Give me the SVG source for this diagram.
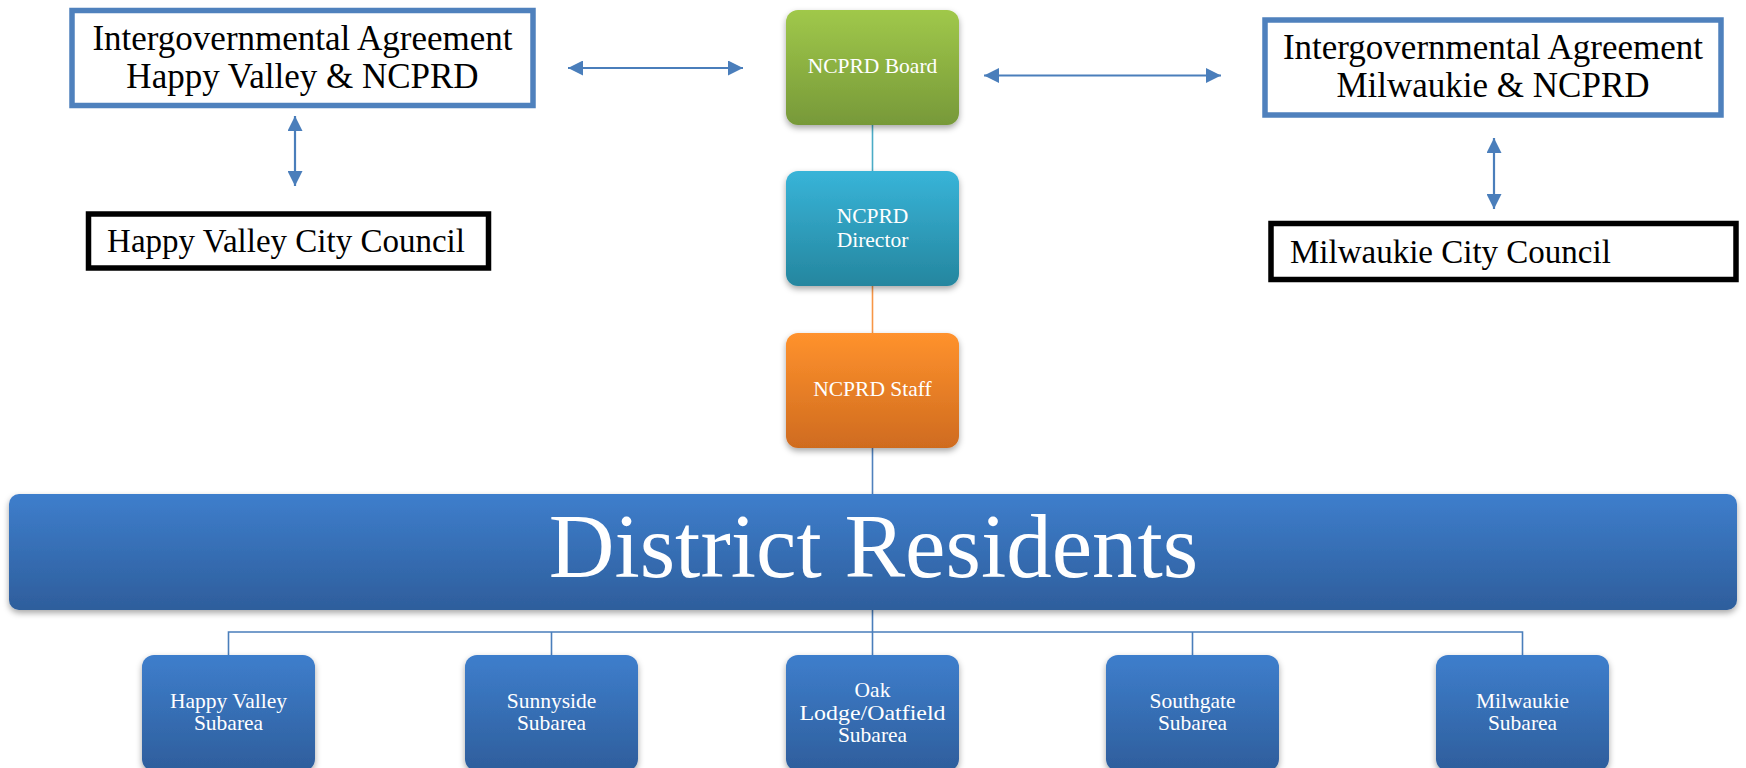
<svg xmlns="http://www.w3.org/2000/svg" width="1746" height="768" viewBox="0 0 1746 768">
<style>
.box-blue{fill:#fff;stroke:#4F81BD;stroke-width:5.5}
.box-black{fill:#fff;stroke:#000;stroke-width:5.5}
.t-big{font-family:"Liberation Serif",serif;font-size:35px;fill:#000}
.t-cc{font-family:"Liberation Serif",serif;font-size:33px;fill:#000}
.t-w{font-family:"Liberation Serif",serif;font-size:21.5px;fill:#fff;text-anchor:middle}
.t-dr{font-family:"Liberation Serif",serif;font-size:91px;fill:#fff;text-anchor:middle}
.arrow{stroke:#4A7EBB;stroke-width:2.2;fill:none;marker-start:url(#ah);marker-end:url(#ah)}
.conn{fill:none;stroke-width:1.6}
</style>
<defs>
<marker id="ah" viewBox="0 0 10 10" refX="10" refY="5" markerWidth="15" markerHeight="15" markerUnits="userSpaceOnUse" orient="auto-start-reverse">
<path d="M0,0 L10,5 L0,10 z" fill="#4A7EBB"/>
</marker>
<linearGradient id="gGreen" x1="0" y1="0" x2="0" y2="1"><stop offset="0" stop-color="#A0C84A"/><stop offset="1" stop-color="#779939"/></linearGradient>
<linearGradient id="gTeal" x1="0" y1="0" x2="0" y2="1"><stop offset="0" stop-color="#38B4D8"/><stop offset="1" stop-color="#25869F"/></linearGradient>
<linearGradient id="gOrange" x1="0" y1="0" x2="0" y2="1"><stop offset="0" stop-color="#FF922D"/><stop offset="1" stop-color="#CF6B1F"/></linearGradient>
<linearGradient id="gBlue" x1="0" y1="0" x2="0" y2="1"><stop offset="0" stop-color="#3E7ECC"/><stop offset="1" stop-color="#2E5E9C"/></linearGradient>
<filter id="sh" x="-10%" y="-10%" width="120%" height="130%">
<feDropShadow dx="0" dy="3" stdDeviation="3" flood-color="#000" flood-opacity="0.35"/>
</filter>
</defs>
<rect width="1746" height="768" fill="#fff"/>

<g id="connectors">
<line class="arrow" x1="568" y1="68" x2="743" y2="68"/>
<line class="arrow" x1="984" y1="75.5" x2="1221" y2="75.5"/>
<line class="arrow" x1="295" y1="116" x2="295" y2="186"/>
<line class="arrow" x1="1494" y1="138" x2="1494" y2="209"/>
<line class="conn" stroke="#4BACC6" x1="872.5" y1="125" x2="872.5" y2="171"/>
<line class="conn" stroke="#F79646" x1="872.5" y1="286" x2="872.5" y2="333"/>
<line class="conn" stroke="#4F81BD" x1="872.5" y1="448" x2="872.5" y2="494"/>
<path class="conn" stroke="#4A7EBB" d="M872.5,610 V655 M228.5,655 V632 H1522.5 V655 M551.5,632 V655 M1192.5,632 V655"/>
</g>

<g id="iga-hv">
<rect class="box-blue" x="72" y="10.5" width="461" height="95"/>
<text class="t-big" x="302.5" y="49.5" text-anchor="middle">Intergovernmental Agreement</text>
<text class="t-big" x="302.5" y="88" text-anchor="middle">Happy Valley &amp; NCPRD</text>
</g>

<g id="hv-council">
<rect class="box-black" x="88.5" y="214" width="400" height="54"/>
<text class="t-cc" x="286" y="252" text-anchor="middle">Happy Valley City Council</text>
</g>

<g id="iga-milw">
<rect class="box-blue" x="1265" y="20" width="456" height="95"/>
<text class="t-big" x="1493" y="59" text-anchor="middle">Intergovernmental Agreement</text>
<text class="t-big" x="1493" y="97" text-anchor="middle">Milwaukie &amp; NCPRD</text>
</g>

<g id="milw-council">
<rect class="box-black" x="1271" y="223.5" width="465" height="56"/>
<text class="t-cc" x="1290" y="263">Milwaukie City Council</text>
</g>

<g id="board">
<rect x="786" y="10" width="173" height="115" rx="12" fill="url(#gGreen)" filter="url(#sh)"/>
<text class="t-w" x="872.5" y="72.5">NCPRD Board</text>
</g>

<g id="director">
<rect x="786" y="171" width="173" height="115" rx="12" fill="url(#gTeal)" filter="url(#sh)"/>
<text class="t-w" x="872.5" y="222.5">NCPRD</text>
<text class="t-w" x="872.5" y="246.5">Director</text>
</g>

<g id="staff">
<rect x="786" y="333" width="173" height="115" rx="12" fill="url(#gOrange)" filter="url(#sh)"/>
<text class="t-w" x="872.5" y="396">NCPRD Staff</text>
</g>

<g id="district">
<rect x="9" y="494" width="1728" height="116" rx="10" fill="url(#gBlue)" filter="url(#sh)"/>
<text class="t-dr" x="873.5" y="577">District Residents</text>
</g>

<g id="sub-hv">
<rect x="142" y="655" width="173" height="116" rx="12" fill="url(#gBlue)" filter="url(#sh)"/>
<text class="t-w" x="228.5" y="707.5">Happy Valley</text>
<text class="t-w" x="228.5" y="730">Subarea</text>
</g>

<g id="sub-sunnyside">
<rect x="465" y="655" width="173" height="116" rx="12" fill="url(#gBlue)" filter="url(#sh)"/>
<text class="t-w" x="551.5" y="707.5">Sunnyside</text>
<text class="t-w" x="551.5" y="730">Subarea</text>
</g>

<g id="sub-oak">
<rect x="786" y="655" width="173" height="116" rx="12" fill="url(#gBlue)" filter="url(#sh)"/>
<text class="t-w" x="872.5" y="697">Oak</text>
<text class="t-w" x="872.5" y="719.5" textLength="146" lengthAdjust="spacingAndGlyphs">Lodge/Oatfield</text>
<text class="t-w" x="872.5" y="742">Subarea</text>
</g>

<g id="sub-southgate">
<rect x="1106" y="655" width="173" height="116" rx="12" fill="url(#gBlue)" filter="url(#sh)"/>
<text class="t-w" x="1192.5" y="707.5">Southgate</text>
<text class="t-w" x="1192.5" y="730">Subarea</text>
</g>

<g id="sub-milwaukie">
<rect x="1436" y="655" width="173" height="116" rx="12" fill="url(#gBlue)" filter="url(#sh)"/>
<text class="t-w" x="1522.5" y="707.5">Milwaukie</text>
<text class="t-w" x="1522.5" y="730">Subarea</text>
</g>
</svg>
